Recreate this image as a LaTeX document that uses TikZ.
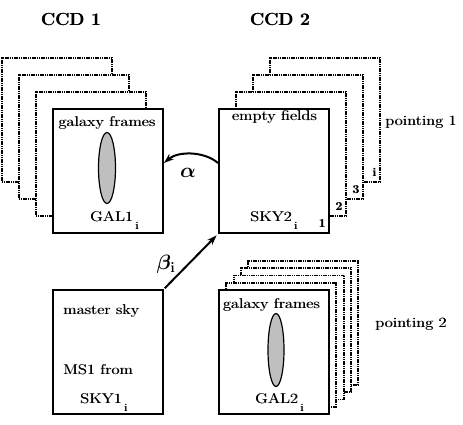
\documentclass[tikz,border=0pt]{standalone}
\usetikzlibrary{shapes.geometric,arrows.meta}
\newcommand{\subi}{\hspace{2pt}\raisebox{-8pt}{\fontsize{11}{11}\selectfont i}}
\newcommand{\wx}[1]{\scalebox{1.17}[1]{\rlap{#1}\hspace{0.4pt}#1}}
\newcommand{\hv}[1]{\rlap{#1}\hspace{0.5pt}#1}
\begin{document}
\begin{tikzpicture}[x=1pt,y=-1pt,
  box/.style={draw, line width=2pt, minimum width=110pt, minimum height=124pt, inner sep=0pt},
  frm/.style={draw, fill=white, line width=1.8pt, dash pattern=on 1.2pt off 0.6pt, minimum width=110pt, minimum height=124pt, inner sep=0pt},
  lbl/.style={font=\fontsize{14}{16}\selectfont, inner sep=0pt},
  num/.style={font=\fontsize{12}{12}\selectfont\bfseries, inner sep=0pt, anchor=south east},
  head/.style={font=\fontsize{17.5}{20}\selectfont\bfseries, inner sep=0pt},
  gal/.style={draw, ellipse, fill=gray!50, line width=1.2pt, inner sep=0pt},
  arr/.style={line width=2pt, -{Stealth[length=10pt,width=7pt]}}]
\useasboundingbox (0,0) rectangle (463,425);

% headings
\node[head] (ccd1) at (71,19) {\hv{CCD 1}};
\node[head] (ccd2) at (280,19) {\hv{CCD 2}};

% CCD1 stack
\node[frm] (c1f3) at (57,120) {};
\node[frm] (c1f2) at (74,137) {};
\node[frm] (c1f1) at (91,154) {};
\node[box, fill=white] (gal1) at (108,171) {};
\node[lbl, anchor=base] (gal1t) at (107,127) {\wx{galaxy frames}};
\node[gal, minimum width=17pt, minimum height=71pt] (ell1) at (107,168) {};
\node[lbl, anchor=base west] (gal1n) at (90,221) {\wx{GAL1\subi}};

% CCD2 stack
\node[frm] (c2fi) at (325,120) {};
\node[frm] (c2f3) at (308,137) {};
\node[frm] (c2f2) at (291,154) {};
\node[box, fill=white] (sky) at (274,171) {};
\node[num] (ni) at ([xshift=-4pt,yshift=6pt]c2fi.south east) {\hv{i}};
\node[num] (n3) at ([xshift=-4pt,yshift=6pt]c2f3.south east) {\hv{3}};
\node[num] (n2) at ([xshift=-4pt,yshift=6pt]c2f2.south east) {\hv{2}};
\node[num] (n1) at ([xshift=-4pt,yshift=6pt]sky.south east) {\hv{1}};
\node[lbl, anchor=base] (skyt) at (274.5,121) {\wx{empty fields}};
\node[lbl, anchor=base west] (skyn) at (250,221) {\wx{SKY2\subi}};
\node[lbl, anchor=base west] (p1) at (385,126) {\wx{pointing 1}};

% master sky
\node[box] (ms) at (108,352) {};
\node[lbl, anchor=base west] (mst) at (63,314) {\wx{master sky}};
\node[lbl, anchor=base west] (msf) at (63,374) {\wx{MS1 from}};
\node[lbl, anchor=base west] (mss) at (80,403) {\wx{SKY1\subi}};

% pointing 2 stack
\node[frm] (p2f4) at (303.2,322.8) {};
\node[frm] (p2f3) at (295.9,330.1) {};
\node[frm] (p2f2) at (288.6,337.4) {};
\node[frm] (p2f1) at (281.3,344.7) {};
\node[box, fill=white] (gal2) at (274,352) {};
\node[lbl, anchor=base] (gal2t) at (271.5,308) {\wx{galaxy frames}};
\node[gal, minimum width=16pt, minimum height=73pt] (ell2) at (276,350) {};
\node[lbl, anchor=base west] (gal2n) at (255,403) {\wx{GAL2\subi}};
\node[lbl, anchor=base west] (p2) at (375,327) {\wx{pointing 2}};

% arrows
\draw[arr] ([yshift=8pt]sky.west) .. controls +(-14,-12) and +(14,-12) .. ([yshift=8pt]gal1.east);
\node[font=\fontsize{20}{20}\selectfont\boldmath, inner sep=0pt] (alpha) at (188,173) {$\alpha$};
\draw[arr, shorten <=1pt, shorten >=2pt] (ms.north east) -- (sky.south west);
\node[font=\fontsize{20}{20}\selectfont\boldmath, inner sep=0pt] (beta) at (166,264) {$\beta_{\mathrm{i}}$};
\end{tikzpicture}
\end{document}
